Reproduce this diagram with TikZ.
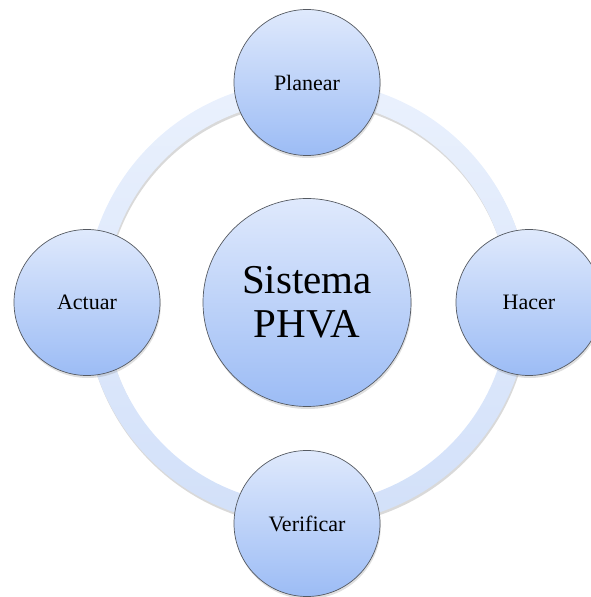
\documentclass[tikz,border=0pt]{standalone}
\usepackage{fontspec}
\setmainfont{Liberation Serif}
\usetikzlibrary{shadows}
\definecolor{haut}{HTML}{DFE9FC}
\definecolor{bas}{HTML}{9CBCF5}
\definecolor{anneauhaut}{HTML}{EAF1FD}
\definecolor{anneaubas}{HTML}{D2E0F9}
\definecolor{bord}{HTML}{555A62}

\begin{document}
\begin{tikzpicture}[x=1pt, y=1pt]
\tikzset{cercle/.style={draw=bord, line width=0.7pt, circle, inner sep=0pt, minimum size=146pt, top color=haut, bottom color=bas, drop shadow={opacity=0.25, shadow xshift=0.8pt, shadow yshift=-2.5pt}, font=\fontsize{22}{26}\selectfont}}
\useasboundingbox (-307, -294.5) rectangle (284, 302.5);
\clip (-307, -294.5) rectangle (284, 302.5);
\coordinate (O) at (0, 0);
\fill[black, opacity=0.15, even odd rule] ([shift={(0.8,-2.5)}]O) circle (222) ([shift={(0.8,-2.5)}]O) circle (202);
\shade[top color=anneauhaut, bottom color=anneaubas, even odd rule] (O) circle (222) (O) circle (202);
\node[cercle, minimum size=208pt, font=\fontsize{41}{44}\selectfont, align=center] (S) at (O) {Sistema\\PHVA};
\node[cercle] (P) at (90:220) {Planear};
\node[cercle] (H) at (0:222) {Hacer};
\node[cercle] (V) at (270:221) {Verificar};
\node[cercle] (A) at (180:220) {Actuar};
\end{tikzpicture}
\end{document}
